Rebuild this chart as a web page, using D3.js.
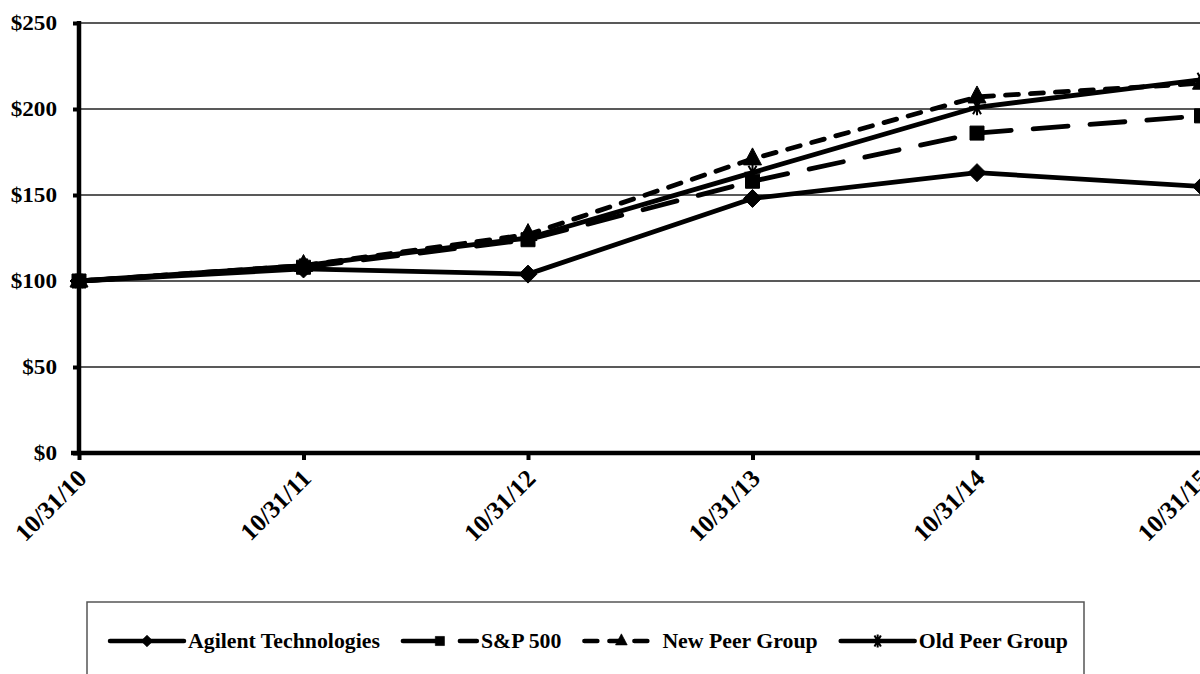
<!DOCTYPE html>
<html>
<head>
<meta charset="utf-8">
<script src="https://cdn.jsdelivr.net/npm/d3@7"></script>
<style>
  html, body { margin: 0; padding: 0; background: #fff; }
  svg { display: block; }
  text { font-family: "Liberation Serif", "Times New Roman", serif; font-weight: bold; fill: #000; }
</style>
</head>
<body>
<div id="chart"></div>
<script>
const dates = ['10/31/10', '10/31/11', '10/31/12', '10/31/13', '10/31/14', '10/31/15']
const yTicks = [0, 50, 100, 150, 200, 250]

const agilent = [100, 107, 104, 148, 163, 155]
const sp500 = [100, 108, 124, 158, 186, 196]
const newPeer = [100, 109, 127, 171, 207, 215]
const oldPeer = [100, 109, 125, 163, 201, 217]

const SERIES = [
  { name: 'Agilent Technologies', values: agilent, dash: null, marker: 'diamond' },
  { name: 'S&P 500', values: sp500, dash: '35 22', marker: 'square' },
  { name: 'New Peer Group', values: newPeer, dash: '13 12', marker: 'triangle' },
  { name: 'Old Peer Group', values: oldPeer, dash: null, marker: 'star' },
]

const width = 1200
const height = 674
const plot = { left: 79, right: 1201.5, top: 23, bottom: 453 }
const stretch = 1.16 // the original type is a bit wider than Times

const x = d3.scalePoint().domain(dates).range([plot.left, plot.right])
const y = d3.scaleLinear().domain([0, 250]).range([plot.bottom, plot.top])

const svg = d3.select('#chart')
  .append('svg')
  .attr('width', width)
  .attr('height', height)

// gridlines
svg.append('g')
  .selectAll('line')
  .data(yTicks.filter((t) => t > 0))
  .join('line')
  .attr('x1', plot.left)
  .attr('x2', width + 5)
  .attr('y1', (d) => y(d))
  .attr('y2', (d) => y(d))
  .attr('stroke', '#222')
  .attr('stroke-width', 1.3)

// y axis
const yAxis = svg.append('g')
  .attr('transform', `translate(${plot.left},0)`)
  .call(d3.axisLeft(y).tickValues(yTicks).tickSize(6).tickFormat(''))
yAxis.select('.domain').attr('stroke', '#000').attr('stroke-width', 4.5)
  .attr('d', `M0,${plot.top - 2}V${plot.bottom + 2}`)
yAxis.selectAll('.tick line').attr('stroke', '#000').attr('stroke-width', 4)

svg.append('g')
  .selectAll('text')
  .data(yTicks)
  .join('text')
  .attr('text-anchor', 'end')
  .attr('dy', '0.34em')
  .attr('font-size', 20)
  .attr('transform', (d) => `translate(57,${y(d)}) scale(${stretch},1)`)
  .text((d) => '$' + d)

// x axis
const xAxis = svg.append('g')
  .attr('transform', `translate(0,${plot.bottom})`)
  .call(d3.axisBottom(x).tickSize(7).tickFormat(''))
xAxis.select('.domain').attr('stroke', '#000').attr('stroke-width', 4.5)
  .attr('d', `M${plot.left - 8},0H${width + 5}`)
xAxis.selectAll('.tick line').attr('stroke', '#000').attr('stroke-width', 4)

svg.append('g')
  .selectAll('text')
  .data(dates)
  .join('text')
  .attr('text-anchor', 'end')
  .attr('font-size', 25)
  .attr('transform', (d) => `translate(${x(d) + 9},${plot.bottom + 27}) rotate(-45)`)
  .text((d) => d)

function markerPath(kind) {
  if (kind === 'diamond') return 'M0,-9L9,0L0,9L-9,0Z'
  if (kind === 'square') return 'M-7,-7H7V7H-7Z'
  if (kind === 'triangle') return 'M0,-11L9,6H-9Z'
  return 'M-8,0H8M-4,-7L4,7M-4,7L4,-7M0,-8V8'
}

function drawMarker(g, kind, cx, cy, scale = 1) {
  const p = g.append('path')
    .attr('d', markerPath(kind))
    .attr('transform', `translate(${cx},${cy}) scale(${scale})`)
  if (kind === 'star') {
    p.attr('fill', 'none').attr('stroke', '#000').attr('stroke-width', 2 / scale)
  } else {
    p.attr('fill', '#000').attr('stroke', '#000').attr('stroke-width', 1)
  }
}

const line = d3.line()
  .x((d, i) => x(dates[i]))
  .y((d) => y(d))

for (const s of SERIES) {
  const g = svg.append('g')
  g.append('path')
    .attr('d', line(s.values))
    .attr('fill', 'none')
    .attr('stroke', '#000')
    .attr('stroke-width', 4.8)
    .attr('stroke-linecap', s.dash ? 'round' : 'butt')
    .attr('stroke-linejoin', 'round')
    .attr('stroke-dasharray', s.dash)
  s.values.forEach((v, i) => drawMarker(g, s.marker, x(dates[i]), y(v)))
}

// legend
const legend = svg.append('g')
legend.append('rect')
  .attr('x', 87)
  .attr('y', 602)
  .attr('width', 997)
  .attr('height', 120)
  .attr('fill', 'none')
  .attr('stroke', '#555')
  .attr('stroke-width', 1.5)

const legendY = 641
const sampleW = 74
const gapText = 4
const gapItem = 23
let cursor = 110
for (const s of SERIES) {
  const it = legend.append('g').attr('transform', `translate(${cursor},0)`)
  it.append('line')
    .attr('x1', 0).attr('x2', sampleW)
    .attr('y1', legendY).attr('y2', legendY)
    .attr('stroke', '#000')
    .attr('stroke-width', 4.5)
    .attr('stroke-linecap', 'round')
    .attr('stroke-dasharray', s.dash)
  drawMarker(it, s.marker, sampleW / 2, legendY, s.marker === 'star' ? 0.8 : 0.65)
  const t = it.append('text')
    .attr('font-size', 20)
    .attr('transform', `translate(${sampleW + gapText},${legendY + 7}) scale(1.09,1)`)
    .text(s.name)
  cursor += sampleW + gapText + t.node().getComputedTextLength() * 1.09 + gapItem
}
</script>
</body>
</html>
